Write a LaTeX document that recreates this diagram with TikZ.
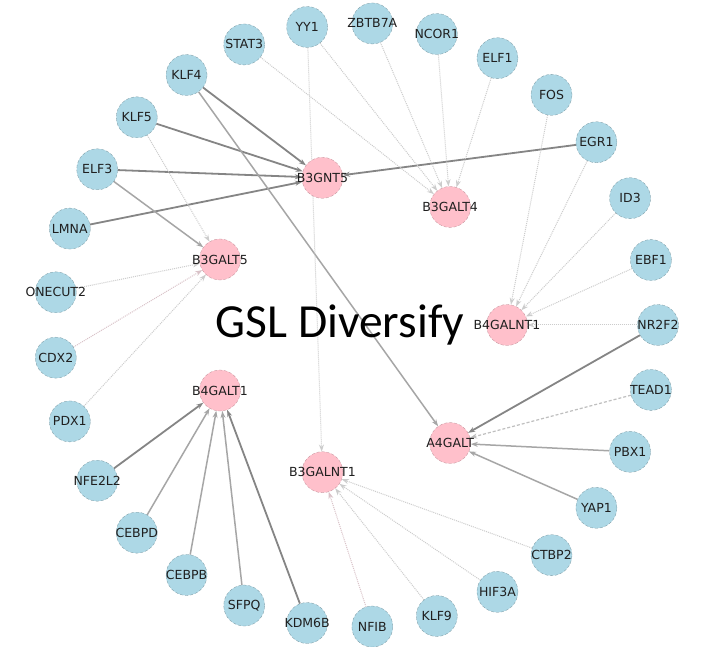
\documentclass[tikz,border=0pt]{standalone}
\usepackage{fontspec}
\newfontfamily\labfont{DejaVu Sans}
\newfontfamily\titlefont{Carlito}
\usetikzlibrary{arrows.meta,backgrounds}
\definecolor{tfblue}{HTML}{ADD8E6}
\definecolor{gslpink}{HTML}{FFC0CB}
\definecolor{edgepink}{HTML}{D9C2C8}
\begin{document}
\begin{tikzpicture}[x=1pt,y=1pt,
  lab/.style={font=\labfont\fontsize{12.5}{14}\selectfont,text=black!88,inner sep=0pt},
  tfnode/.style={circle,fill=tfblue,draw=tfblue!70!black,densely dashed,line width=0.3pt,
    minimum size=41pt,inner sep=0pt,label={[lab]center:#1}},
  gslnode/.style={circle,fill=gslpink,draw=gslpink!75!black,densely dashed,line width=0.3pt,
    minimum size=41pt,inner sep=0pt,label={[lab]center:#1}},
  tip/.style={-{Stealth[length=7pt,width=5pt]}},
  strong/.style={tip,draw=black!48,line width=1.8pt},
  medium/.style={tip,draw=black!35,line width=1.5pt},
  light/.style={tip,draw=black!25,line width=1.2pt,densely dashed},
  weak/.style={tip,draw=black!20,line width=1pt,densely dotted},
  weakpink/.style={weak,draw=edgepink}
]
\useasboundingbox (0,0) rectangle (718,647);
\begin{scope}[shift={(356,322)}]
  \foreach \n [count=\i from 0] in {NR2F2,EBF1,ID3,EGR1,FOS,ELF1,NCOR1,ZBTB7A,YY1,STAT3,KLF4,KLF5,ELF3,LMNA,ONECUT2,CDX2,PDX1,NFE2L2,CEBPD,CEBPB,SFPQ,KDM6B,NFIB,KLF9,HIF3A,CTBP2,YAP1,PBX1,TEAD1}
    \node[tfnode=\n] (\n) at ({\i*360/29}:302) {};
  \foreach \n [count=\i from 0] in {B4GALNT1,B3GALT4,B3GNT5,B3GALT5,B4GALT1,B3GALNT1,A4GALT}
    \node[gslnode=\n] (\n) at ({\i*360/7}:151) {};
\end{scope}
\begin{scope}[on background layer]
  \fill[white] (0,0) rectangle (718,647);
  % B3GNT5
  \draw[strong] (KLF4) -- (B3GNT5);
  \draw[strong] (KLF5) -- (B3GNT5);
  \draw[strong] (ELF3) -- (B3GNT5);
  \draw[strong] (LMNA) -- (B3GNT5);
  \draw[strong] (EGR1) -- (B3GNT5);
  % B3GALT4
  \draw[weak] (STAT3) -- (B3GALT4);
  \draw[weak] (YY1) -- (B3GALT4);
  \draw[weak] (ZBTB7A) -- (B3GALT4);
  \draw[weak] (NCOR1) -- (B3GALT4);
  \draw[weak] (ELF1) -- (B3GALT4);
  % B4GALNT1
  \draw[weak] (FOS) -- (B4GALNT1);
  \draw[weak] (EGR1) -- (B4GALNT1);
  \draw[weak] (ID3) -- (B4GALNT1);
  \draw[weak] (EBF1) -- (B4GALNT1);
  \draw[weak] (NR2F2) -- (B4GALNT1);
  % A4GALT
  \draw[medium] (KLF4) -- (A4GALT);
  \draw[strong] (NR2F2) -- (A4GALT);
  \draw[light] (TEAD1) -- (A4GALT);
  \draw[medium] (PBX1) -- (A4GALT);
  \draw[medium] (YAP1) -- (A4GALT);
  % B3GALNT1
  \draw[weak] (YY1) -- (B3GALNT1);
  \draw[weak] (CTBP2) -- (B3GALNT1);
  \draw[weak] (HIF3A) -- (B3GALNT1);
  \draw[weak] (KLF9) -- (B3GALNT1);
  \draw[weakpink] (NFIB) -- (B3GALNT1);
  % B4GALT1
  \draw[strong] (NFE2L2) -- (B4GALT1);
  \draw[medium] (CEBPD) -- (B4GALT1);
  \draw[medium] (CEBPB) -- (B4GALT1);
  \draw[medium] (SFPQ) -- (B4GALT1);
  \draw[strong] (KDM6B) -- (B4GALT1);
  % B3GALT5
  \draw[weak] (KLF5) -- (B3GALT5);
  \draw[medium] (ELF3) -- (B3GALT5);
  \draw[weak] (ONECUT2) -- (B3GALT5);
  \draw[weakpink] (CDX2) -- (B3GALT5);
  \draw[weak] (PDX1) -- (B3GALT5);
\end{scope}
\node[font=\titlefont\fontsize{47.5}{54}\selectfont,anchor=base,inner sep=0pt] (title) at (340,309) {GSL Diversify};
\end{tikzpicture}
\end{document}
